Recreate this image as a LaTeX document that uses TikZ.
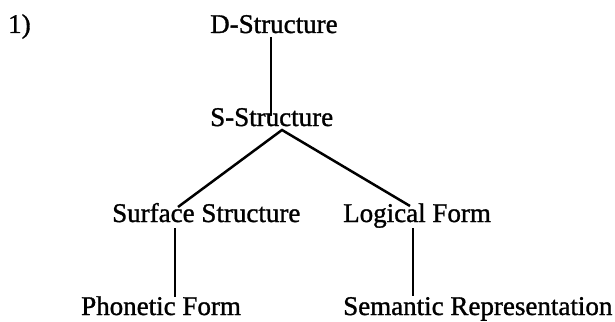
\documentclass[tikz,border=0pt]{standalone}
\usepackage{fontspec}
\setmainfont{Liberation Serif}[FakeBold=1.2]
\begin{document}
\begin{tikzpicture}[x=1pt,y=-1pt,
  lbl/.style={anchor=base west,inner sep=0pt,font=\fontsize{27}{30}\selectfont},
  edge/.style={line width=2.5pt}]
\useasboundingbox (0,0) rectangle (615,321);
\node[lbl] (num) at (8,33) {1)};
\node[lbl] (d) at (210,33) {D-Structure};
\node[lbl] (s) at (210,126) {S-Structure};
\node[lbl] (ss) at (112,222) {Surface Structure};
\node[lbl] (lf) at (343,222) {Logical Form};
\node[lbl] (pf) at (81,315) {Phonetic Form};
\node[lbl] (sr) at (343,315) {Semantic Representation};
\draw[edge] ([xshift=61pt,yshift=-4pt]d.base west) -- ([xshift=61pt,yshift=10pt]s.base west);
\coordinate (j) at ([xshift=72pt,yshift=-4pt]s.base west);
\draw[edge] ([xshift=66pt,yshift=15pt]ss.base west) -- (j) -- ([xshift=67pt,yshift=16pt]lf.base west);
\draw[edge] ([xshift=63pt,yshift=-6pt]ss.base west) -- ([xshift=94pt,yshift=18pt]pf.base west);
\draw[edge] ([xshift=70pt,yshift=-6pt]lf.base west) -- ([xshift=70pt,yshift=19pt]sr.base west);
\end{tikzpicture}
\end{document}
